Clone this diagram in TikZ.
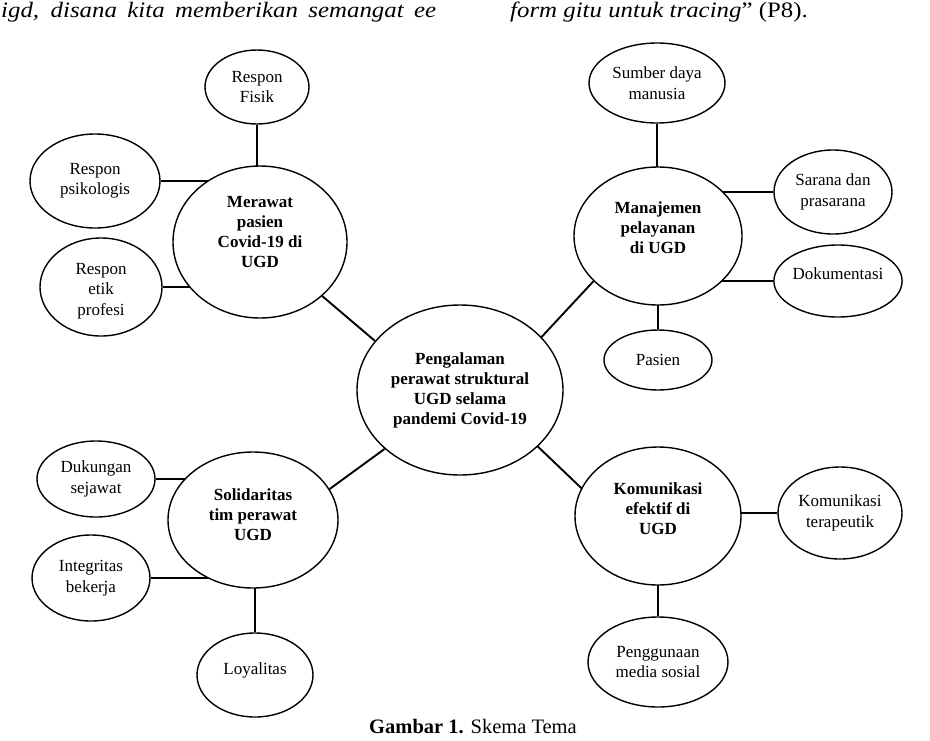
\documentclass[tikz,border=0pt]{standalone}
\usepackage{fontspec}
\usepackage{graphicx}
\setmainfont{Liberation Serif}
\usetikzlibrary{shapes.geometric}
\pgfdeclarelayer{bg}
\pgfsetlayers{bg,main}
\newcommand{\upstack}[2]{\raisebox{#1}[0pt][0pt]{\begin{tabular}{@{}c@{}}#2\end{tabular}}}
\newcommand{\upline}[2]{\raisebox{#1}[0pt][0pt]{#2}}
\begin{document}
\begin{tikzpicture}[x=1pt,y=-1pt,
  bub/.style={ellipse, draw, line width=1.4pt, fill=white, inner sep=0pt, align=center,
    font=\fontsize{17}{20.5}\selectfont},
  hub/.style={bub, font=\fontsize{17}{20}\selectfont\bfseries},
  sz/.style 2 args={minimum width=#1pt, minimum height=#2pt},
  link/.style={line width=1.9pt},
  thicklink/.style={line width=2.5pt}]
\useasboundingbox (0,0) rectangle (930,740);

% top running text
\node[anchor=base west, inner sep=0pt] (t1) at (1,17)
  {\fontsize{22}{26}\selectfont\itshape\scalebox{1.13}[1]{\makebox[385pt][s]{igd, disana kita memberikan semangat ee}}};
\node[anchor=base west, inner sep=0pt] (t2) at (510,17)
  {\fontsize{22}{26}\selectfont\scalebox{1.13}[1]{\itshape form gitu untuk tracing\/\upshape” (P8).}};

% nodes
\node[hub, sz={206}{170}] (pusat) at (460,390) {Pengalaman\\perawat struktural\\UGD selama\\pandemi Covid-19};

\node[hub, sz={174}{152}] (merawat) at (260,242) {\upstack{4pt}{Merawat\\pasien\\Covid-19 di\\UGD}};
\node[bub, sz={104}{74}] (fisik) at (257,87) {Respon\\Fisik};
\node[bub, sz={130}{94}] (psiko) at (95,181) {Respon\\psikologis};
\node[bub, sz={122}{98}] (etik) at (101,287) {\upstack{-8pt}{Respon\\etik\\profesi}};

\node[hub, sz={168}{138}] (manaj) at (658,236) {\upstack{2pt}{Manajemen\\pelayanan\\di UGD}};
\node[bub, sz={136}{80}] (sdm) at (657,83) {Sumber daya\\manusia};
\node[bub, sz={118}{84}] (sarana) at (833,192) {Sarana dan\\prasarana};
\node[bub, sz={128}{72}] (dok) at (838,281) {\upline{2pt}{Dokumentasi}};
\node[bub, sz={108}{60}] (pasien) at (658,360) {Pasien};

\node[hub, sz={170}{136}] (solid) at (253,520) {\upstack{-1pt}{Solidaritas\\tim perawat\\UGD}};
\node[bub, sz={118}{76}] (dukungan) at (96,479) {Dukungan\\sejawat};
\node[bub, sz={118}{86}] (integ) at (91,578) {Integritas\\bekerja};
\node[bub, sz={116}{84}] (loyal) at (255,675) {\upline{1pt}{Loyalitas}};

\node[hub, sz={166}{138}] (komef) at (658,516) {\upstack{1pt}{Komunikasi\\efektif di\\UGD}};
\node[bub, sz={124}{92}] (terap) at (840,513) {Komunikasi\\terapeutik};
\node[bub, sz={140}{90}] (medsos) at (658,662) {Penggunaan\\media sosial};

% straight connectors hidden behind the white fills
\begin{pgfonlayer}{bg}
  \draw[link] (fisik) -- (fisik |- merawat);
  \draw[link] (psiko) -- (psiko -| merawat);
  \draw[link] (etik) -- (etik -| merawat);
  \draw[link] (sdm) -- (sdm |- manaj);
  \draw[link] (sarana) -- (sarana -| manaj);
  \draw[link] (dok) -- (dok -| manaj);
  \draw[link] (pasien) -- (pasien |- manaj);
  \draw[link] (dukungan) -- (dukungan -| solid);
  \draw[link] (integ) -- (integ -| solid);
  \draw[link] (loyal) -- (loyal |- solid);
  \draw[thicklink] (terap) -- (terap -| komef);
  \draw[link] (medsos) -- (medsos |- komef);
\end{pgfonlayer}

% diagonal connectors to the central theme
\draw[link] (merawat.-41) -- (pusat.150);
\draw[link] (manaj.-145) -- (pusat.33);
\draw[link] (solid.22) -- (pusat.218);
\draw[link] (komef.160) -- (pusat.-36);

% caption
\node[anchor=base, inner sep=0pt] (cap) at (473,733)
  {\fontsize{20.5}{24}\selectfont\textbf{Gambar 1.} Skema Tema};
\end{tikzpicture}
\end{document}
